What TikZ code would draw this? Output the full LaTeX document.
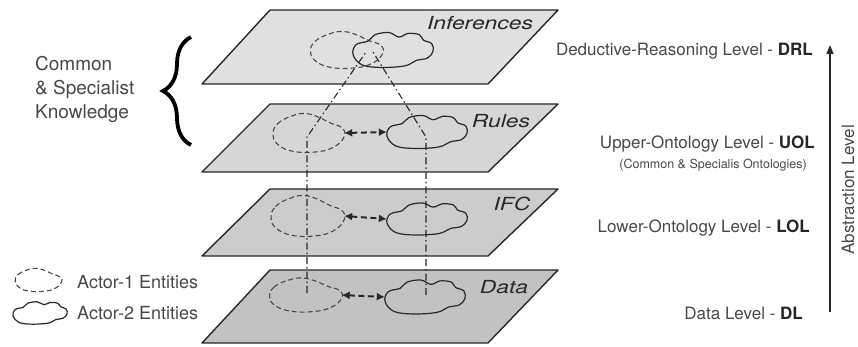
\documentclass[tikz,border=0pt]{standalone}
\usepackage{fontspec}
\setmainfont{TeX Gyre Heros}
\usetikzlibrary{shapes.geometric,arrows.meta,decorations.pathreplacing}
\definecolor{layerA}{RGB}{224,224,224}
\definecolor{layerB}{RGB}{214,214,214}
\definecolor{layerC}{RGB}{204,204,204}
\definecolor{layerD}{RGB}{194,194,194}
\definecolor{edgec}{RGB}{40,40,40}
\definecolor{txt}{RGB}{72,72,72}
\newcommand\actorone[3]{\begin{scope}[shift={(#1.center)}, x=#2pt, y=#3pt]
 \draw[actAline] plot[smooth cycle, tension=0.75] coordinates {(-0.97,-0.1) (-0.85,0.45) (-0.45,0.85) (-0.05,0.97) (0.35,0.75) (0.62,0.5) (0.95,0.25) (1.0,-0.2) (0.7,-0.72) (0.2,-0.95) (-0.4,-0.92) (-0.82,-0.6)};
 \end{scope}}
\newcommand\actortwo[3]{\begin{scope}[shift={(#1.center)}, x=#2pt, y=#3pt]
 \draw[actBline] plot[smooth cycle, tension=0.6] coordinates {(-1,-0.25) (-0.92,0.3) (-0.62,0.5) (-0.45,0.85) (-0.1,0.97) (0.15,0.72) (0.38,0.92) (0.66,0.85) (0.76,0.55) (0.97,0.35) (1.0,-0.08) (0.86,-0.45) (0.58,-0.58) (0.3,-0.88) (-0.3,-0.97) (-0.78,-0.82)};
 \end{scope}}
\begin{document}
\begin{tikzpicture}[x=1pt,y=-1pt,
  layer/.style={draw=edgec, line width=1.4pt, line join=round},
  actnode/.style={ellipse, draw=none, inner sep=0pt},
  actAline/.style={draw=edgec!85, dash pattern=on 5pt off 3pt, line width=1.1pt},
  actBline/.style={draw=edgec, line width=1.2pt},
  link/.style={dash pattern=on 6pt off 3.5pt, line width=2pt, draw=edgec, {Latex[length=8pt,width=8pt]}-{Latex[length=8pt,width=8pt]}},
  trace/.style={dash pattern=on 7pt off 3pt on 1.5pt off 3pt, line width=1.1pt, draw=edgec},
  lbl/.style={font=\fontsize{18}{20}\selectfont\itshape, text=edgec, inner sep=0pt},
  rtxt/.style={font=\fontsize{17}{20}\selectfont, text=txt, anchor=east, inner sep=0pt},
]
\useasboundingbox (0,0) rectangle (858,347);

% layers (top to bottom)
\path[layer, fill=layerA] (270,10) -- (558,10) -- (488,84) -- (202,84) -- cycle;
\path[layer, fill=layerB] (270,104) -- (558,104) -- (488,172) -- (202,172) -- cycle;
\path[layer, fill=layerC] (270,189) -- (558,189) -- (488,256) -- (202,256) -- cycle;
\path[layer, fill=layerD] (270,270) -- (558,270) -- (488,343) -- (202,343) -- cycle;

% layer labels
\node[lbl] (lInf) at (480,23) {\scalebox{1.27}[1]{Inferences}};
\node[lbl] (lRul) at (501,121) {\scalebox{1.27}[1]{Rules}};
\node[lbl] (lIFC) at (512,204) {\scalebox{1.27}[1]{IFC}};
\node[lbl] (lDat) at (504,287) {\scalebox{1.27}[1]{Data}};

% cloud anchors
\node[actnode, minimum width=73pt, minimum height=38pt] (d1) at (346,50) {};
\node[actnode, minimum width=80pt, minimum height=36pt] (s1) at (393,50) {};
\node[actnode, minimum width=72pt, minimum height=40pt] (d2) at (308,133) {};
\node[actnode, minimum width=80pt, minimum height=34pt] (s2) at (427,132) {};
\node[actnode, minimum width=74pt, minimum height=42pt] (d3) at (307,216) {};
\node[actnode, minimum width=80pt, minimum height=33pt] (s3) at (427,219) {};
\node[actnode, minimum width=73pt, minimum height=35pt] (d4) at (305,295) {};
\node[actnode, minimum width=80pt, minimum height=35pt] (s4) at (425,297) {};
\node[actnode, minimum width=47pt, minimum height=24pt] (legA) at (38,280) {};
\node[actnode, minimum width=54pt, minimum height=23pt] (legB) at (40,313) {};

% clouds
\actorone{d1}{36.5}{19}
\actortwo{s1}{40}{18}
\actorone{d2}{36}{20}
\actortwo{s2}{40}{17}
\actorone{d3}{37}{21}
\actortwo{s3}{40}{16.5}
\actorone{d4}{36.5}{17.5}
\actortwo{s4}{40}{17.5}
\actorone{legA}{23.5}{12}
\actortwo{legB}{27}{11.5}

% links between actors
\draw[link] (d2.east) -- (s2.west);
\draw[link] (d3.east) -- (s3.west);
\draw[link] (d4.east) -- (s4.west);

% traces
\coordinate (bendL) at (307,137);
\coordinate (bendR) at (426,137);
\coordinate (apexL) at (366,52);
\coordinate (apexR) at (373,52);
\coordinate (footL) at (307,293);
\coordinate (footR) at (426,295);
\draw[trace] (footL) -- (bendL) -- (apexL);
\draw[trace] (footR) -- (bendR) -- (apexR);

% brace and left text
\coordinate (brB) at (191,145);
\coordinate (brT) at (191,37);
\draw[line width=3.8pt, decorate, decoration={brace, amplitude=28pt, aspect=0.5}] (brB) -- (brT);
\node[font=\fontsize{19}{24}\selectfont, text=txt, align=left, anchor=west, inner sep=0pt] (know) at (35,89) {Common\\\& Specialist\\Knowledge};

% legend text
\node[font=\fontsize{18}{20}\selectfont, text=txt, anchor=west, inner sep=0pt] (tA) at (77,282) {Actor-1 Entities};
\node[font=\fontsize{18}{20}\selectfont, text=txt, anchor=west, inner sep=0pt] (tB) at (77,313) {Actor-2 Entities};

% right texts
\node[rtxt] (drl) at (813,51) {Deductive-Reasoning Level - \textcolor{black!85}{\textbf{DRL}}};
\node[rtxt] (uol) at (815,144) {Upper-Ontology Level - \textcolor{black!85}{\textbf{UOL}}};
\node[rtxt, font=\fontsize{12.5}{14}\selectfont] (uols) at (807,165) {(Common \& Specialis Ontologies)};
\node[rtxt] (lol) at (810,228) {Lower-Ontology Level - \textcolor{black!85}{\textbf{LOL}}};
\node[rtxt] (dl) at (803,313) {Data Level - \textcolor{black!85}{\textbf{DL}}};

% abstraction arrow
\coordinate (abB) at (830,312);
\coordinate (abT) at (830,45);
\draw[line width=1.5pt, draw=edgec, -{Triangle[length=9pt,width=7pt]}] (abB) -- (abT);
\node[font=\fontsize{17}{20}\selectfont, text=txt, rotate=90, inner sep=0pt] (abs) at (848,190) {Abstraction Level};
\end{tikzpicture}
\end{document}
